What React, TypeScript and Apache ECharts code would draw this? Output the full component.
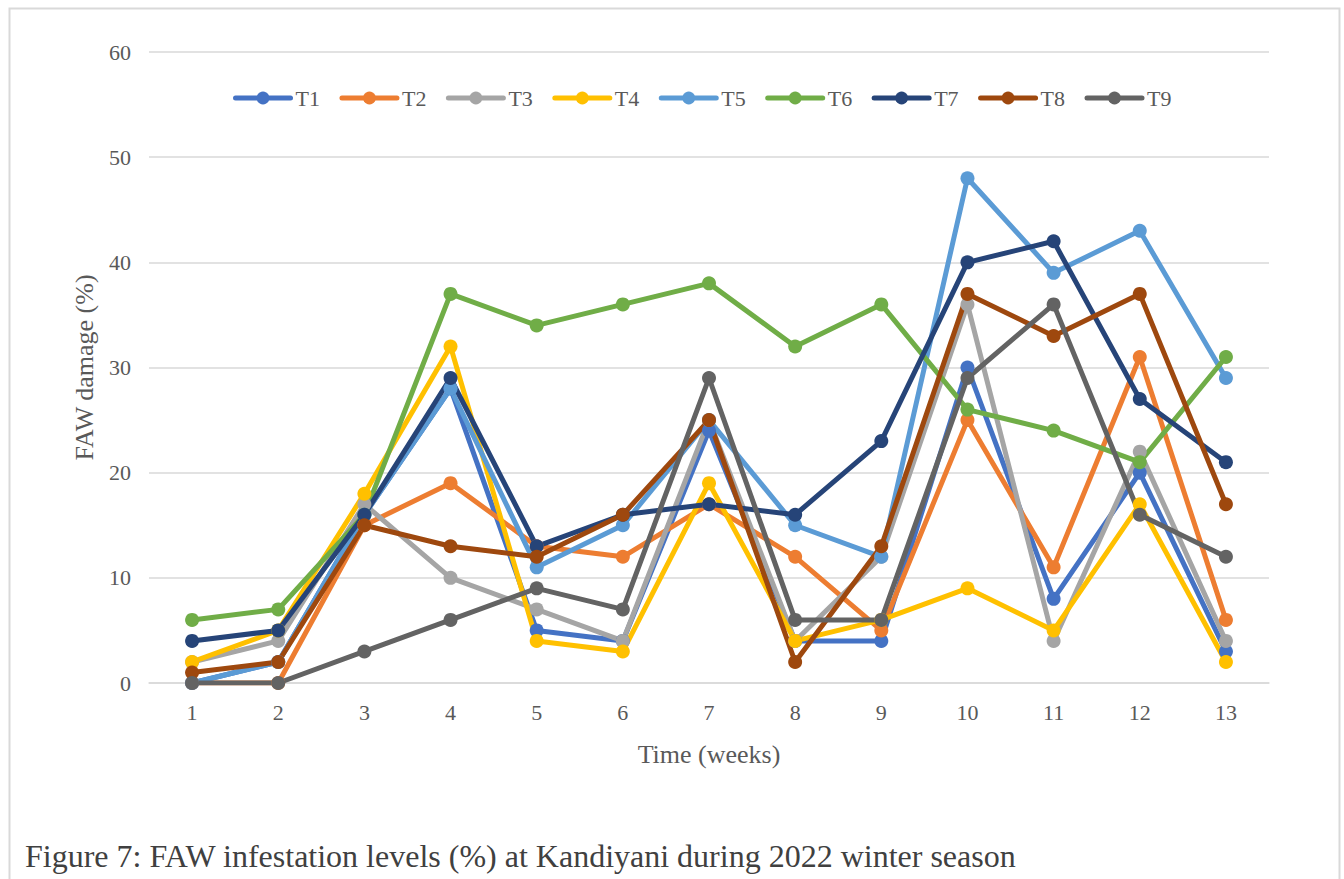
import React, { useEffect, useRef } from "react";
import * as echarts from "echarts";

// Weekly FAW damage (%) per treatment, Kandiyani, 2022 winter season
const weeks = ["1", "2", "3", "4", "5", "6", "7", "8", "9", "10", "11", "12", "13"];
const T1 = [0, 2, 16, 28, 5, 4, 24, 4, 4, 30, 8, 20, 3];
const T2 = [0, 0, 15, 19, 13, 12, 17, 12, 5, 25, 11, 31, 6];
const T3 = [2, 4, 17, 10, 7, 4, 25, 4, 12, 36, 4, 22, 4];
const T4 = [2, 5, 18, 32, 4, 3, 19, 4, 6, 9, 5, 17, 2];
const T5 = [0, 2, 16, 28, 11, 15, 25, 15, 12, 48, 39, 43, 29];
const T6 = [6, 7, 16, 37, 34, 36, 38, 32, 36, 26, 24, 21, 31];
const T7 = [4, 5, 16, 29, 13, 16, 17, 16, 23, 40, 42, 27, 21];
const T8 = [1, 2, 15, 13, 12, 16, 25, 2, 13, 37, 33, 37, 17];
const T9 = [0, 0, 3, 6, 9, 7, 29, 6, 6, 29, 36, 16, 12];

const seriesNames = ["T1", "T2", "T3", "T4", "T5", "T6", "T7", "T8", "T9"];
const seriesValues = [T1, T2, T3, T4, T5, T6, T7, T8, T9];
const seriesColors = [
  "#4472C4",
  "#ED7D31",
  "#A5A5A5",
  "#FFC000",
  "#5B9BD5",
  "#70AD47",
  "#264478",
  "#9E480E",
  "#636363",
];

const yTicks = { min: 0, max: 60, interval: 10 };
const xAxisTitle = "Time (weeks)";
const yAxisTitle = "FAW damage (%)";
const caption = "Figure 7: FAW infestation levels (%) at Kandiyani during 2022 winter season";

const FONT = "'Liberation Serif', 'Times New Roman', serif";
const TEXT = "#595959";
const GRID = "#D9D9D9";

export default function App() {
  const ref = useRef<HTMLDivElement>(null);

  useEffect(() => {
    if (!ref.current) return;
    const chart = echarts.init(ref.current, undefined, { renderer: "svg" });

    const series = seriesNames.map((name, i) => ({
      name,
      type: "line",
      data: seriesValues[i],
      symbol: "circle",
      symbolSize: 14,
      color: seriesColors[i],
      lineStyle: { width: 5, color: seriesColors[i], cap: "round", join: "round" },
      itemStyle: { color: seriesColors[i] },
      emphasis: { disabled: true },
    }));

    chart.setOption({
      animation: false,
      backgroundColor: "#ffffff",
      textStyle: { fontFamily: FONT },
      grid: { left: 149, right: 75, top: 52, bottom: 196, containLabel: false },
      legend: {
        top: 82,
        left: 228,
        itemWidth: 55,
        itemHeight: 16,
        itemGap: 19.5,
        lineStyle: { width: 5 },
        textStyle: { fontFamily: FONT, fontSize: 22, color: TEXT },
        data: seriesNames,
      },
      xAxis: {
        type: "category",
        data: weeks,
        boundaryGap: true,
        axisLine: { show: true, lineStyle: { color: GRID, width: 1.5 } },
        axisTick: { show: false },
        axisLabel: { color: TEXT, fontSize: 22, fontFamily: FONT, margin: 18 },
        splitLine: { show: false },
        name: xAxisTitle,
        nameLocation: "middle",
        nameGap: 58,
        nameTextStyle: { color: TEXT, fontSize: 26, fontFamily: FONT },
      },
      yAxis: {
        type: "value",
        min: yTicks.min,
        max: yTicks.max,
        interval: yTicks.interval,
        axisLine: { show: false },
        axisTick: { show: false },
        axisLabel: { color: TEXT, fontSize: 22, fontFamily: FONT, margin: 18 },
        splitLine: { show: true, lineStyle: { color: GRID, width: 1.5 } },
        name: yAxisTitle,
        nameLocation: "middle",
        nameGap: 52,
        nameRotate: 90,
        nameTextStyle: { color: TEXT, fontSize: 26, fontFamily: FONT },
      },
      graphic: [
        {
          type: "rect",
          left: 7,
          top: 6,
          shape: { x: 0, y: 0, width: 1330, height: 900 },
          style: { fill: "none", stroke: GRID, lineWidth: 2 },
          silent: true,
          z: -1,
        },
        {
          type: "text",
          left: 25,
          top: 840,
          style: {
            text: caption,
            fontFamily: FONT,
            fontSize: 32,
            fill: "#404040",
          },
          silent: true,
        },
      ],
      series,
    });

    return () => chart.dispose();
  }, []);

  return (
    <div
      ref={ref}
      style={{ position: "fixed", left: 0, top: 0, width: 1344, height: 879 }}
    />
  );
}
